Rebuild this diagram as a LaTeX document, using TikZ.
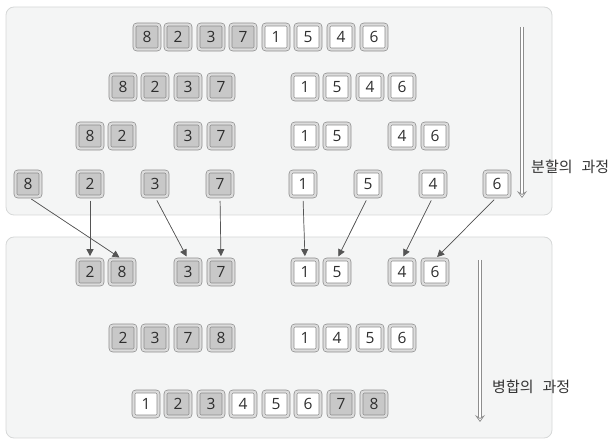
\documentclass[tikz,border=0pt]{standalone}
\usepackage{fontspec}
\setmainfont{Open Sans}
\newfontfamily\krfont{Noto Sans CJK KR}
\usetikzlibrary{arrows.meta}

\definecolor{panelfill}{HTML}{F4F5F5}
\definecolor{panelline}{HTML}{D6D8D8}
\definecolor{cellgray}{HTML}{C8C8C8}
\definecolor{cellframe}{HTML}{DCDCDC}
\definecolor{cellline}{HTML}{8C8C8C}
\definecolor{celltext}{HTML}{2E2E2E}
\definecolor{arrowgray}{HTML}{555555}
\definecolor{stagegray}{HTML}{8E8E8E}
\definecolor{labeltext}{HTML}{333333}

% fill colour of each value
\colorlet{val1}{white}
\colorlet{val2}{cellgray}
\colorlet{val3}{cellgray}
\colorlet{val4}{white}
\colorlet{val5}{white}
\colorlet{val6}{white}
\colorlet{val7}{cellgray}
\colorlet{val8}{cellgray}

\begin{document}
\begin{tikzpicture}[
    x=1pt, y=-1pt,
    % Node styles
    panel/.style={
        rectangle,
        rounded corners=8pt,
        draw=panelline,
        line width=0.8pt,
        fill=panelfill,
        inner sep=0pt
    },
    cell/.style={
        rectangle,
        rounded corners=2.5pt,
        draw=cellline,
        line width=0.7pt,
        double=cellframe,
        double distance=2.2pt,
        fill=#1,
        minimum size=25pt,
        inner sep=0pt,
        text=celltext,
        font=\fontsize{15.5}{15.5}\selectfont
    },
    mergearrow/.style={
        -{Triangle[length=7pt, width=7pt]},
        line width=0.7pt,
        draw=arrowgray,
        fill=arrowgray,
        shorten <=4pt,
        shorten >=3pt
    },
    stageline/.style={
        line width=0.7pt,
        draw=stagegray,
        double=white,
        double distance=2.4pt,
        shorten >=4pt
    },
    stagehead/.style={
        -{Stealth[length=7pt, width=10pt, inset=3pt, fill=white]},
        line width=0.7pt,
        draw=stagegray
    },
    stagelabel/.style={
        anchor=west,
        inner sep=0pt,
        text=labeltext,
        font=\krfont\fontsize{15}{15}\selectfont
    }
]
\useasboundingbox (0,0) rectangle (614,446);

% ===== Panels =====

\node[panel, minimum width=546pt, minimum height=208pt] (splitpanel) at (279,111) {};
\node[panel, minimum width=546pt, minimum height=201pt] (mergepanel) at (279,337.5) {};

% ===== Split rows =====

\foreach \v/\x in {8/147,2/178,3/211,7/243,1/276,5/308,4/341,6/374}
    \node[cell=val\v] (r1v\v) at (\x,37) {\v};
\foreach \v/\x in {8/123,2/155,3/188,7/221,1/305,5/337,4/370,6/402}
    \node[cell=val\v] (r2v\v) at (\x,87) {\v};
\foreach \v/\x in {8/90,2/122,3/188,7/221,1/305,5/337,4/402,6/435}
    \node[cell=val\v] (r3v\v) at (\x,136) {\v};
\foreach \v/\x in {8/28,2/90,3/155,7/220,1/303,5/368,4/433,6/497}
    \node[cell=val\v] (r4v\v) at (\x,184) {\v};

% ===== Merge rows =====

\foreach \v/\x in {2/90,8/122,3/188,7/221,1/305,5/337,4/402,6/435}
    \node[cell=val\v] (r5v\v) at (\x,272) {\v};
\foreach \v/\x in {2/123,3/155,7/188,8/221,1/305,4/337,5/370,6/402}
    \node[cell=val\v] (r6v\v) at (\x,338) {\v};
\foreach \v/\x in {1/146,2/178,3/211,4/243,5/276,6/308,7/341,8/374}
    \node[cell=val\v] (r7v\v) at (\x,404) {\v};

% ===== Arrows from split to merge =====

\foreach \v in {1,...,8}
    \draw[mergearrow] (r4v\v.south) -- (r5v\v.north);

% ===== Stage arrows and labels =====

\coordinate (splittop) at (522,27);
\coordinate (splitend) at (522,198);
\coordinate (mergetop) at (480,260);
\coordinate (mergeend) at (480,422);

\draw[stageline] (splittop) -- (splitend);
\draw[stagehead] ([yshift=1pt]splitend) -- (splitend);
\draw[stageline] (mergetop) -- (mergeend);
\draw[stagehead] ([yshift=1pt]mergeend) -- (mergeend);

\node[stagelabel] (splitlabel) at (531,167) {분할의\hspace{0.6em}과정};
\node[stagelabel] (mergelabel) at (492,387) {병합의\hspace{0.6em}과정};

\end{tikzpicture}
\end{document}
